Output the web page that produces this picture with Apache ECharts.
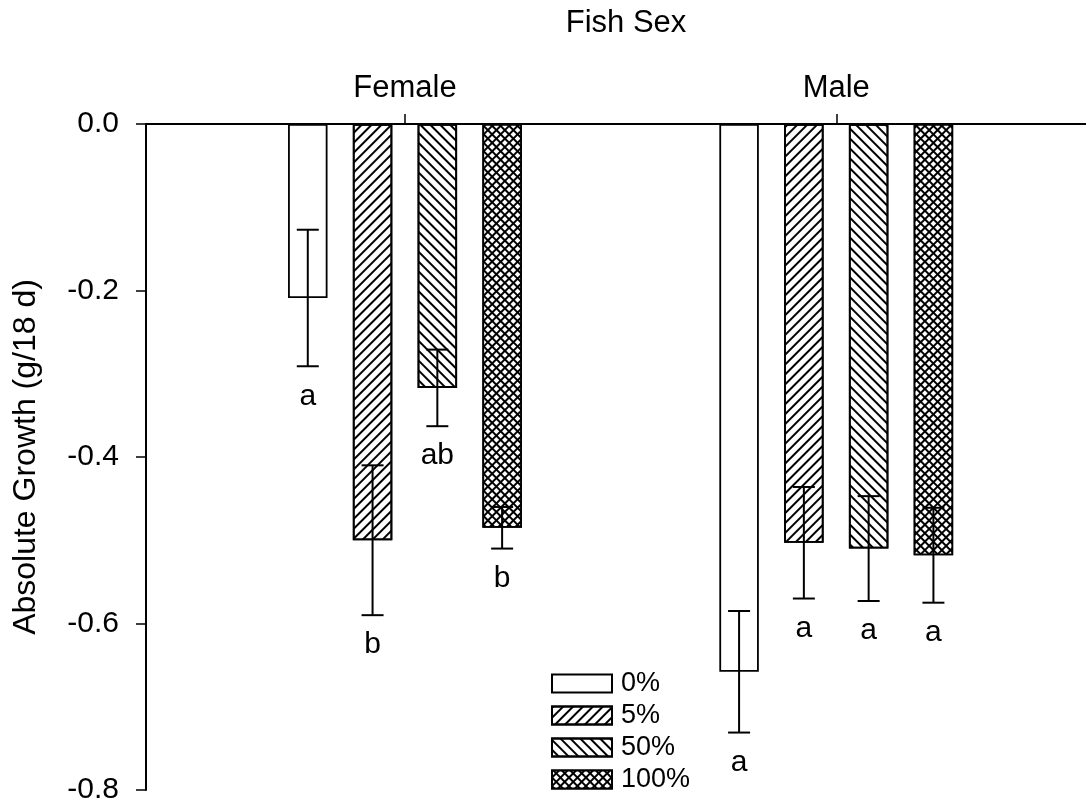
<!DOCTYPE html>
<html>
<head>
<meta charset="utf-8">
<title>Absolute Growth by Fish Sex</title>
<script src="https://cdn.jsdelivr.net/npm/echarts@6/dist/echarts.min.js"></script>
<style>
  html, body { margin: 0; padding: 0; background: #fff; }
  #chart { width: 1086px; height: 807px; }
</style>
</head>
<body>
<div id="chart"></div>
<script>
// Categories and treatments
const groups = ['Female', 'Male'];
const treatments = ['0%', '5%', '50%', '100%'];

// Mean absolute growth (g/18 d) per treatment, ordered as groups
const pct0Mean = [-0.209, -0.658];
const pct5Mean = [-0.500, -0.503];
const pct50Mean = [-0.317, -0.510];
const pct100Mean = [-0.485, -0.518];

// Standard errors
const pct0Se = [0.082, 0.073];
const pct5Se = [0.090, 0.067];
const pct50Se = [0.046, 0.063];
const pct100Se = [0.025, 0.057];

// Significance letters
const pct0Letters = ['a', 'a'];
const pct5Letters = ['b', 'a'];
const pct50Letters = ['ab', 'a'];
const pct100Letters = ['b', 'a'];

// Y axis tick labels
const yTickLabels = ['-0.8', '-0.6', '-0.4', '-0.2', '0.0'];

const means = [pct0Mean, pct5Mean, pct50Mean, pct100Mean];
const ses = [pct0Se, pct5Se, pct50Se, pct100Se];
const letters = [pct0Letters, pct5Letters, pct50Letters, pct100Letters];

const FONT = "'Liberation Sans', Arial, sans-serif";
const BAR_W = 39.5;
const BAR_GAP = 0.64;
const PITCH = BAR_W * (1 + BAR_GAP);

// Fill patterns
const decals = [
  null,
  { symbol: 'rect', symbolSize: 1, dashArrayX: [1, 0], dashArrayY: [1.6, 4.2], rotation: -Math.PI / 4, color: '#000' },
  { symbol: 'rect', symbolSize: 1, dashArrayX: [1, 0], dashArrayY: [1.6, 4.2], rotation: Math.PI / 4, color: '#000' },
  { symbol: 'rect', symbolSize: 1, dashArrayX: [3.2, 1.25], dashArrayY: [3.2, 1.25], rotation: Math.PI / 4, color: '#fff', backgroundColor: '#000' }
];

const barSeries = treatments.map((name, t) => {
  const itemStyle = { color: '#fff', borderColor: '#000', borderWidth: 1.8 };
  if (decals[t]) itemStyle.decal = decals[t];
  return {
    name: name,
    type: 'bar',
    xAxisIndex: 1,
    yAxisIndex: 1,
    barWidth: BAR_W,
    barGap: (BAR_GAP * 100) + '%',
    data: means[t],
    itemStyle: itemStyle,
    emphasis: { disabled: true },
    z: 2
  };
});

// Error bars with letters, one item per (group, treatment)
const errData = [];
groups.forEach((g, gi) => {
  treatments.forEach((tr, t) => {
    errData.push([gi, t, means[t][gi], ses[t][gi], letters[t][gi]]);
  });
});

const errSeries = {
  type: 'custom',
  xAxisIndex: 1,
  yAxisIndex: 1,
  z: 5,
  silent: true,
  data: errData,
  encode: { x: 0, y: 2 },
  renderItem: function (params, api) {
    const gi = api.value(0);
    const t = api.value(1);
    const m = api.value(2);
    const s = api.value(3);
    const letter = errData[params.dataIndex][4];
    const top = api.coord([gi, m + s]);
    const bot = api.coord([gi, m - s]);
    const x = top[0] + (t - 1.5) * PITCH;
    const cap = 11;
    const ls = { stroke: '#000', lineWidth: 2 };
    return {
      type: 'group',
      children: [
        { type: 'line', shape: { x1: x, y1: top[1], x2: x, y2: bot[1] }, style: ls },
        { type: 'line', shape: { x1: x - cap, y1: top[1], x2: x + cap, y2: top[1] }, style: ls },
        { type: 'line', shape: { x1: x - cap, y1: bot[1], x2: x + cap, y2: bot[1] }, style: ls },
        {
          type: 'text',
          style: {
            text: letter, x: x, y: bot[1] + 30,
            align: 'center', verticalAlign: 'middle',
            font: '30px ' + FONT, fill: '#000'
          }
        }
      ]
    };
  }
};

const chart = echarts.init(document.getElementById('chart'), null, { renderer: 'canvas' });

chart.setOption({
  animation: false,
  backgroundColor: '#fff',
  title: {
    text: 'Fish Sex',
    left: 621,
    textAlign: 'center',
    top: 3,
    textStyle: { fontFamily: FONT, fontSize: 31, fontWeight: 'normal', color: '#000' }
  },
  legend: {
    orient: 'vertical',
    left: 546,
    top: 665,
    itemWidth: 60,
    itemHeight: 18,
    itemGap: 5,
    icon: 'rect',
    data: treatments,
    selectedMode: false,
    textStyle: { fontFamily: FONT, fontSize: 27, lineHeight: 25, color: '#000', padding: [0, 0, 0, 4] }
  },
  grid: [
    { left: 146, right: 0, top: 124, bottom: 17 },
    { left: 189.3, width: 862.6, top: 124, bottom: 17 }
  ],
  xAxis: [
    {
      type: 'value', gridIndex: 0, position: 'top', min: 0, max: 1,
      axisLine: { show: true, onZero: false, lineStyle: { color: '#000', width: 2 } },
      axisTick: { show: false }, axisLabel: { show: false }, splitLine: { show: false }
    },
    {
      type: 'category', gridIndex: 1, position: 'top', data: groups,
      axisLine: { show: false, onZero: false },
      axisTick: { show: true, alignWithLabel: true, length: 10, lineStyle: { color: '#000', width: 1.5 } },
      axisLabel: { margin: 20, fontFamily: FONT, fontSize: 31, color: '#000' },
      splitLine: { show: false }
    }
  ],
  yAxis: [
    {
      type: 'value', gridIndex: 0, min: -0.8, max: 0, interval: 0.2,
      name: 'Absolute Growth (g/18 d)',
      nameLocation: 'middle',
      nameGap: 104,
      nameTextStyle: { fontFamily: FONT, fontSize: 32, color: '#000' },
      axisLine: { show: true, onZero: false, lineStyle: { color: '#000', width: 2 } },
      axisTick: { show: true, length: 10, lineStyle: { color: '#000', width: 1.5 } },
      axisLabel: {
        margin: 27, fontFamily: FONT, fontSize: 30, color: '#000',
        formatter: function (v) { return yTickLabels[Math.round((v + 0.8) / 0.2)]; }
      },
      splitLine: { show: false }
    },
    {
      type: 'value', gridIndex: 1, min: -0.8, max: 0, interval: 0.2, show: false
    }
  ],
  series: barSeries.concat([errSeries])
});
</script>
</body>
</html>
